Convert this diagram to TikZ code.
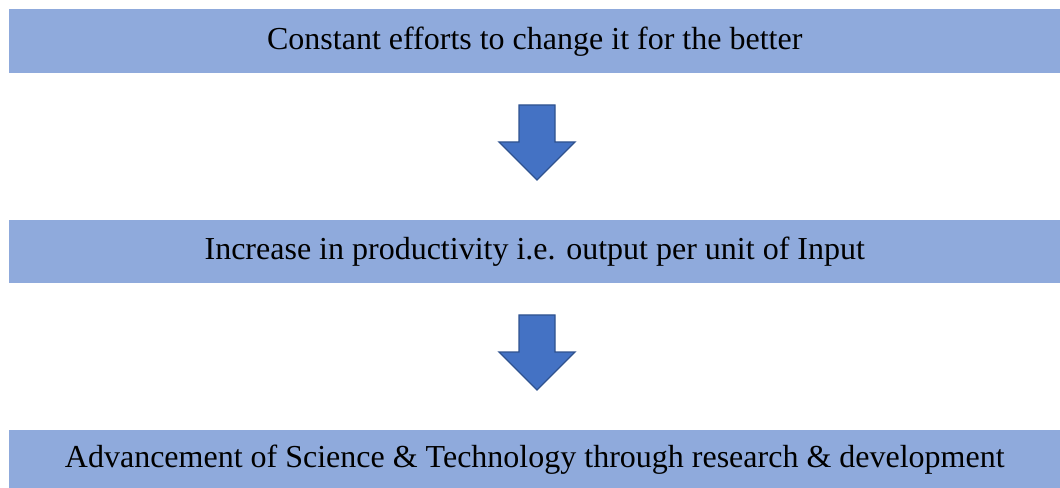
\documentclass[tikz,border=0pt]{standalone}
\usepackage{fontspec}
\setmainfont{Liberation Serif}
\usetikzlibrary{calc}
\definecolor{barfill}{HTML}{8FAADC}
\definecolor{arrfill}{HTML}{4472C4}
\definecolor{arrdraw}{HTML}{2F528F}
\tikzset{
  bar/.style={fill=barfill, draw=none, minimum width=1051*0.75pt, inner sep=0pt, font=\fontsize{24}{28}\selectfont, text=black},
  blockarrow/.style={fill=arrfill, draw=arrdraw, line width=1pt, line join=miter}
}
\begin{document}
\begin{tikzpicture}[x=0.75pt,y=-0.75pt]
\useasboundingbox (0,0) rectangle (1060,488);
\node[bar, minimum height=64*0.75pt, anchor=north west] (b1) at (9,9) {Constant efforts to change it for the better};
\node[bar, minimum height=63*0.75pt, anchor=north west] (b2) at (9,220) {Increase in productivity i.e. output per unit of Input};
\node[bar, minimum height=58*0.75pt, anchor=north west] (b3) at (9,430) {Advancement of Science \& Technology through research \& development};
\coordinate (a1) at (537,105);
\coordinate (a2) at (537,315);
\foreach \a in {a1,a2}{
  \draw[blockarrow] ($(\a)+(-18,0)$) -- ($(\a)+(18,0)$) -- ($(\a)+(18,37)$) -- ($(\a)+(38,37)$) -- ($(\a)+(0,75)$) -- ($(\a)+(-38,37)$) -- ($(\a)+(-18,37)$) -- cycle;
}
\end{tikzpicture}
\end{document}
